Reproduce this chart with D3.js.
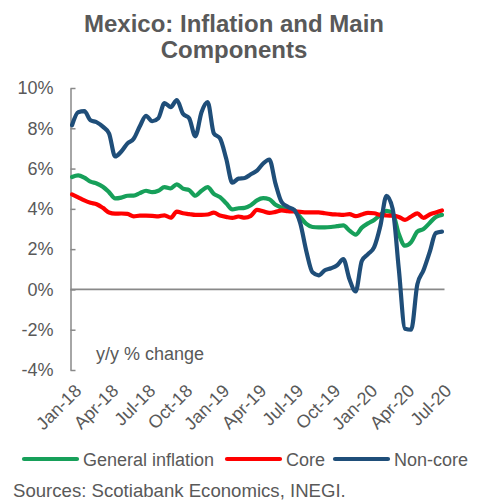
<!DOCTYPE html>
<html>
<head>
<meta charset="utf-8">
<script src="https://cdn.jsdelivr.net/npm/d3@7"></script>
<style>
  html, body { margin: 0; padding: 0; background: #ffffff; }
  svg { display: block; font-family: "Liberation Sans", Arial, sans-serif; }
</style>
</head>
<body>
<svg id="chart" width="485" height="502"></svg>
<script>
// Half-monthly readings, 1H Jan-18 through 1H Jul-20 (y/y % change)
const periods = d3.range(61);

const generalInflation = [
  5.58, 5.66, 5.55, 5.35, 5.26, 5.10, 4.83, 4.52, 4.56, 4.65,
  4.66, 4.78, 4.90, 4.83, 4.90, 5.08, 5.02, 5.22, 5.00, 4.93,
  4.65, 4.90, 5.08, 4.74, 4.58, 4.28, 3.97, 4.03, 4.05, 4.18,
  4.42, 4.53, 4.48, 4.20, 4.06, 3.97, 3.93, 3.60, 3.25, 3.10,
  3.08, 3.08, 3.10, 3.14, 3.18, 2.92, 2.72, 3.07, 3.28, 3.45,
  3.70, 3.90, 3.78, 2.75, 2.17, 2.35, 2.87, 3.00, 3.30, 3.60,
  3.70
];

const core = [
  4.72, 4.57, 4.42, 4.30, 4.23, 4.05, 3.82, 3.76, 3.77, 3.75,
  3.63, 3.66, 3.66, 3.65, 3.63, 3.68, 3.56, 3.86, 3.78, 3.74,
  3.70, 3.70, 3.72, 3.81, 3.67, 3.60, 3.55, 3.62, 3.56, 3.65,
  3.95, 3.88, 3.80, 3.85, 3.92, 3.89, 3.87, 3.85, 3.83, 3.83,
  3.83, 3.78, 3.74, 3.72, 3.70, 3.74, 3.64, 3.72, 3.80, 3.78,
  3.70, 3.67, 3.66, 3.60, 3.45, 3.62, 3.78, 3.55, 3.72, 3.82,
  3.92
];

const nonCore = [
  8.15, 8.80, 8.85, 8.40, 8.30, 8.08, 7.75, 6.60, 6.85, 7.25,
  7.48, 8.10, 8.62, 8.35, 8.50, 9.25, 9.05, 9.40, 8.72, 8.50,
  7.60, 8.80, 9.30, 7.75, 7.50, 6.50, 5.30, 5.50, 5.53, 5.72,
  5.90, 6.25, 6.45, 5.25, 4.33, 4.10, 3.95, 3.30, 1.90, 0.85,
  0.70, 0.95, 1.05, 1.20, 1.50, 0.50, -0.10, 1.42, 1.75, 2.10,
  3.15, 4.65, 4.00, 1.00, -1.95, -2.00, 0.25, 0.95, 1.85, 2.80,
  2.87
];

// Quarterly tick labels, one every six half-month periods
const tickPeriods = [0, 6, 12, 18, 24, 30, 36, 42, 48, 54, 60];
const tickLabels = ["Jan-18", "Apr-18", "Jul-18", "Oct-18", "Jan-19", "Apr-19",
                    "Jul-19", "Oct-19", "Jan-20", "Apr-20", "Jul-20"];

const yTicks = [-4, -2, 0, 2, 4, 6, 8, 10];

const seriesNames = ["General inflation", "Core", "Non-core"];
const seriesColors = ["#17a05a", "#ff0000", "#1f4e79"];
const seriesValues = [generalInflation, core, nonCore];

const svg = d3.select("#chart");
const textColor = "#595959";
const axisColor = "#898989";

const x = d3.scaleLinear().domain([0, 60]).range([72, 442]);
const y = d3.scaleLinear().domain([-4, 10]).range([370, 88]);

// Title
const title = svg.append("text")
  .attr("text-anchor", "middle")
  .attr("fill", textColor)
  .attr("font-weight", "bold")
  .attr("font-size", 24);
title.append("tspan").attr("x", 234).attr("y", 32).text("Mexico: Inflation and Main");
title.append("tspan").attr("x", 234).attr("y", 58).text("Components");

// Zero line
svg.append("line")
  .attr("x1", x(0) - 1.5).attr("x2", x(60) + 2.5)
  .attr("y1", y(0)).attr("y2", y(0))
  .attr("stroke", axisColor).attr("stroke-width", 1.8);

// Y axis with inward ticks
const yAxis = d3.axisLeft(y)
  .tickValues(yTicks)
  .tickFormat(d => d + "%")
  .tickSizeInner(-5)
  .tickSizeOuter(0)
  .tickPadding(17);

const gy = svg.append("g")
  .attr("transform", `translate(${x(0) - 1.5},0)`)
  .call(yAxis);
gy.select(".domain").attr("stroke", axisColor).attr("stroke-width", 1.5);
gy.selectAll(".tick line").attr("stroke", axisColor).attr("stroke-width", 1.5);
gy.selectAll(".tick text")
  .attr("fill", textColor)
  .attr("font-size", 18)
  .attr("font-family", "\"Liberation Sans\", Arial, sans-serif");

// X axis labels along the bottom of the plot, rotated
const xAxis = d3.axisBottom(x)
  .tickValues(tickPeriods)
  .tickFormat((d, i) => tickLabels[i])
  .tickSize(0);

const gx = svg.append("g")
  .attr("transform", `translate(0,${y(-4)})`)
  .call(xAxis);
gx.select(".domain").remove();
gx.selectAll(".tick text")
  .attr("fill", textColor)
  .attr("font-size", 18)
  .attr("font-family", "\"Liberation Sans\", Arial, sans-serif")
  .attr("text-anchor", "end")
  .attr("x", 0).attr("y", 0).attr("dy", 0)
  .attr("transform", "translate(10,22) rotate(-45)");

// Units note
svg.append("text")
  .attr("x", 96).attr("y", 360)
  .attr("fill", textColor)
  .attr("font-size", 18)
  .text("y/y % change");

// Series lines
const line = d3.line()
  .x((d, i) => x(periods[i]))
  .y(d => y(d))
  .curve(d3.curveMonotoneX);

seriesValues.forEach((vals, k) => {
  svg.append("path")
    .datum(vals)
    .attr("fill", "none")
    .attr("stroke", seriesColors[k])
    .attr("stroke-width", 4.2)
    .attr("stroke-linejoin", "round")
    .attr("stroke-linecap", "round")
    .attr("d", line);
});

// Legend
const legendItems = [
  { x: 24, text: seriesNames[0], color: seriesColors[0] },
  { x: 227, text: seriesNames[1], color: seriesColors[1] },
  { x: 335, text: seriesNames[2], color: seriesColors[2] }
];
const lg = svg.append("g");
legendItems.forEach(item => {
  lg.append("line")
    .attr("x1", item.x).attr("x2", item.x + 53)
    .attr("y1", 459).attr("y2", 459)
    .attr("stroke", item.color)
    .attr("stroke-width", 4.2)
    .attr("stroke-linecap", "round");
  lg.append("text")
    .attr("x", item.x + 59).attr("y", 466)
    .attr("fill", textColor)
    .attr("font-size", 18)
    .text(item.text);
});

// Source note
svg.append("text")
  .attr("x", 13).attr("y", 497)
  .attr("fill", textColor)
  .attr("font-size", 18.6)
  .text("Sources: Scotiabank Economics, INEGI.");
</script>
</body>
</html>
